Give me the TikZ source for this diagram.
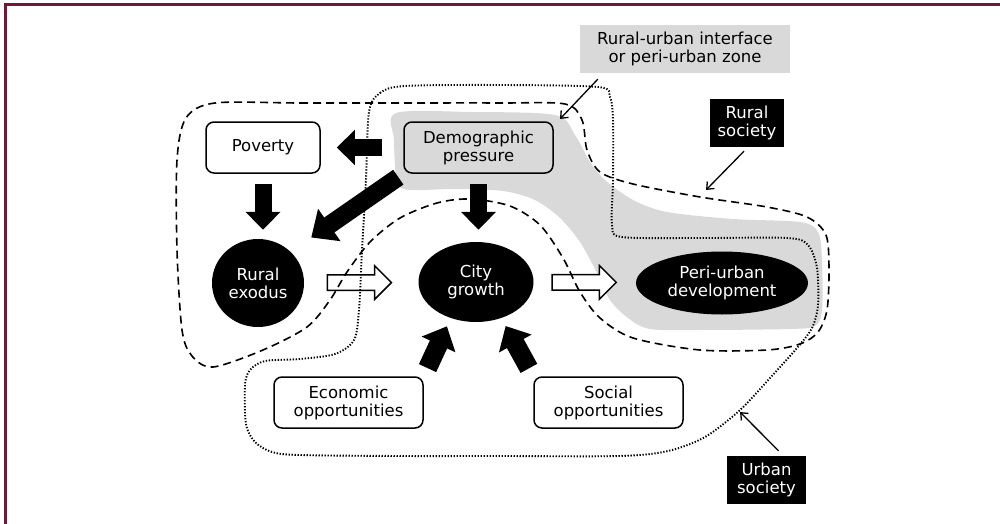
\documentclass[tikz,border=0pt]{standalone}
\usepackage{fontspec}
\setmainfont{DejaVu Sans}
\usetikzlibrary{arrows.meta,shapes.arrows,shapes.geometric,calc}
\definecolor{zonegray}{RGB}{217,217,217}
\definecolor{framecol}{RGB}{112,24,58}
\begin{document}
\begin{tikzpicture}[x=1pt,y=-1pt,
  txt/.style={font=\fontsize{16.5}{18}\selectfont, align=center},
  roundbox/.style={txt, draw, line width=1.5pt, rounded corners=8pt, minimum width=149pt, minimum height=51pt, inner sep=0pt, fill=white},
  blackell/.style={txt, ellipse, fill=black, text=white, inner sep=0pt},
  blacklabel/.style={txt, fill=black, text=white, inner sep=0pt, minimum height=48pt},
  bigarrow/.style={line width=17pt, -{Triangle[length=18pt,width=34pt]}},
  hollow/.style={single arrow, draw, line width=1.5pt, fill=white, inner xsep=0pt, inner ysep=7pt, minimum height=64pt, single arrow head extend=9pt},
  thinarrow/.style={line width=1.3pt, -{Straight Barb[length=6pt,width=10pt]}},
  ruralline/.style={line width=1.6pt, dash pattern=on 8pt off 5pt},
  urbanline/.style={line width=1.9pt, dash pattern=on 1.3pt off 1.7pt}
]
\useasboundingbox (0,0) rectangle (1000,524);
% frame
\draw[framecol, line width=3pt] (5,524) -- (5,5) -- (1000,5);

% peri-urban zone
\fill[zonegray] plot[smooth cycle, tension=0.5] coordinates {
 (396,113) (470,112) (555,115) (575,135) (590,162) (605,180) (633,200) (667,212)
 (733,219) (800,222) (818,232) (822,260) (822,310) (815,326) (790,329) (700,330)
 (650,329) (628,318) (610,300) (597,273) (580,242) (560,218) (535,200) (503,191)
 (453,189) (410,190) (397,182) (394,140)};

% nodes
\node[roundbox, minimum width=114pt] (poverty) at (263,147.5) {Poverty};
\node[roundbox, fill=zonegray] (demo) at (478.5,147.5) {Demographic\\pressure};
\node[blackell, minimum width=92pt, minimum height=88pt] (rural) at (258,283) {Rural\\exodus};
\node[blackell, minimum width=115pt, minimum height=80pt] (city) at (476,282) {City\\growth};
\node[blackell, minimum width=172pt, minimum height=63pt] (peri) at (722,283) {Peri-urban\\development};
\node[roundbox] (econ) at (348.5,402.5) {Economic\\opportunities};
\node[roundbox] (social) at (608.5,402.5) {Social\\opportunities};
\node[txt, fill=zonegray, minimum width=210pt, minimum height=48pt, inner sep=0pt] (iface) at (685,49) {Rural-urban interface\\or peri-urban zone};
\node[blacklabel, minimum width=74pt] (ruralsoc) at (747,123) {Rural\\society};
\node[blacklabel, minimum width=79pt] (urbansoc) at (766.5,480) {Urban\\society};

% block arrows
\draw[bigarrow, shorten <=21pt, shorten >=16pt] (demo.west) -- (poverty.east);
\draw[bigarrow, shorten <=10pt, shorten >=9pt] (poverty.south) -- (poverty.south |- rural.north);
\draw[bigarrow, shorten <=10pt, shorten >=12pt] (demo.south) -- (demo.south |- city.north);
\draw[line width=18pt, -{Triangle[length=22pt,width=38pt]}, shorten <=6pt, shorten >=25pt] (demo.south west) -- (rural.north east);
\draw[line width=19pt, -{Triangle[length=20pt,width=36pt]}, shorten <=9pt, shorten >=9pt] (econ.north east) -- (city.235);
\draw[line width=19pt, -{Triangle[length=20pt,width=36pt]}, shorten <=9pt, shorten >=9pt] (social.north west) -- (city.305);

% hollow arrows
\path (rural) -- (city) node[hollow, pos=0.45] (h1) {};
\path (city) -- (peri) node[hollow, pos=0.457] (h2) {};

% society outlines
\draw[ruralline] plot[smooth cycle, tension=0.5] coordinates {
 (215,103) (300,103) (400,103) (500,103) (565,104) (582,120) (587,150) (600,172)
 (633,184) (700,197) (767,207) (807,217) (826,235) (829,270) (827,310) (818,332)
 (800,344) (767,350) (700,350) (633,338) (600,318) (580,292) (563,258) (540,225)
 (510,206) (470,199) (437,203) (400,218) (370,242) (347,272) (330,300) (307,327)
 (263,350) (213,367) (192,356) (182,330) (177,250) (177,160) (186,118)};
\draw[urbanline] plot[smooth cycle, tension=0.5] coordinates {
 (369,112) (380,93) (405,86) (500,85) (598,87) (610,97) (613,120) (613,180)
 (612,225) (622,237) (700,238) (787,238) (808,245) (817,268) (818,305) (812,328)
 (797,348) (770,378) (740,410) (705,437) (668,451) (620,456) (500,456) (400,456)
 (300,455) (272,452) (255,442) (246,424) (245,385) (250,370) (265,361) (300,359)
 (335,354) (354,340) (359,310) (362,250) (366,180)};

% label pointers
\coordinate (ifaceTip) at (560,119);
\coordinate (ruralTip) at (706,190);
\coordinate (urbanTip) at (740,412);
\draw[thinarrow] ([xshift=18pt,yshift=-6pt]iface.south west) -- (ifaceTip);
\draw[thinarrow] ([xshift=-3pt,yshift=-4pt]ruralsoc.south) -- (ruralTip);
\draw[thinarrow] ([xshift=12pt,yshift=5pt]urbansoc.north) -- (urbanTip);
\end{tikzpicture}
\end{document}
